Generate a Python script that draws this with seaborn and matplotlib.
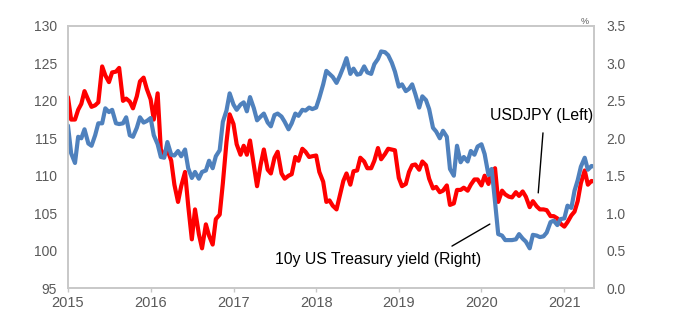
import numpy as np
import pandas as pd
import matplotlib
matplotlib.use("Agg")
import matplotlib.pyplot as plt
import matplotlib.dates as mdates
import matplotlib.ticker as mticker
import seaborn as sns

# ---- data (semi-monthly samples: 1st and 15th of each month) ----
dates = pd.date_range("2015-01-01", "2021-05-15", freq="SMS")

usdjpy_2015 = [120.5, 117.5, 117.5, 118.8, 119.6, 121.3, 120.1, 119.2, 119.4, 119.8, 124.6, 123.4,
               122.5, 123.8, 123.9, 124.4, 120.0, 120.3, 119.9, 119.0, 120.6, 122.6, 123.1, 121.6]
usdjpy_2016 = [120.2, 117.5, 121.0, 113.5, 112.7, 113.5, 112.0, 108.8, 106.5, 108.6, 110.5, 106.0,
               101.5, 105.5, 102.2, 100.3, 103.5, 102.0, 100.8, 104.2, 104.8, 109.0, 114.5, 118.2]
usdjpy_2017 = [116.9, 114.2, 112.8, 114.0, 112.8, 114.7, 111.4, 108.6, 111.5, 113.5, 110.8, 110.3,
               112.4, 113.2, 110.3, 109.6, 110.0, 110.2, 112.5, 112.0, 113.6, 113.2, 112.5, 112.6]
usdjpy_2018 = [112.7, 110.5, 109.2, 106.5, 106.7, 106.0, 105.5, 107.3, 109.3, 110.3, 108.8, 110.6,
               110.7, 112.4, 111.9, 111.0, 111.0, 112.0, 113.7, 112.2, 112.9, 113.6, 113.5, 113.4]
usdjpy_2019 = [109.7, 108.6, 108.9, 110.5, 111.4, 111.5, 110.8, 111.9, 111.4, 109.6, 108.3, 108.5,
               107.8, 108.0, 108.7, 106.1, 106.3, 108.1, 108.1, 108.4, 108.0, 108.8, 109.5, 109.5]
usdjpy_2020 = [108.7, 110.0, 108.9, 110.5, 111.0, 106.5, 108.0, 107.5, 107.2, 107.1, 107.8, 107.3,
               107.9, 107.2, 105.8, 106.6, 105.9, 105.5, 105.5, 105.4, 104.6, 104.6, 104.3, 103.6]
usdjpy_2021 = [103.2, 103.8, 104.7, 105.2, 106.6, 109.0, 110.7, 108.8, 109.3, 109.2]

ust10y_2015 = [2.17, 1.80, 1.67, 2.02, 2.00, 2.12, 1.93, 1.90, 2.04, 2.20, 2.20, 2.40,
               2.35, 2.38, 2.20, 2.19, 2.20, 2.28, 2.04, 2.02, 2.14, 2.28, 2.21, 2.23]
ust10y_2016 = [2.27, 2.04, 1.92, 1.75, 1.74, 1.95, 1.78, 1.77, 1.83, 1.76, 1.85, 1.60,
               1.47, 1.55, 1.46, 1.55, 1.57, 1.70, 1.60, 1.76, 1.84, 2.22, 2.37, 2.60]
ust10y_2017 = [2.45, 2.38, 2.45, 2.48, 2.36, 2.55, 2.40, 2.24, 2.29, 2.33, 2.21, 2.16,
               2.31, 2.33, 2.29, 2.22, 2.12, 2.20, 2.33, 2.30, 2.38, 2.37, 2.41, 2.39]
ust10y_2018 = [2.41, 2.54, 2.72, 2.90, 2.86, 2.82, 2.74, 2.83, 2.95, 3.07, 2.86, 2.93,
               2.85, 2.86, 2.96, 2.88, 2.86, 2.99, 3.06, 3.16, 3.15, 3.11, 3.01, 2.89]
ust10y_2019 = [2.69, 2.72, 2.63, 2.66, 2.72, 2.59, 2.41, 2.56, 2.51, 2.39, 2.14, 2.09,
               2.00, 2.10, 2.02, 1.59, 1.50, 1.90, 1.68, 1.75, 1.69, 1.83, 1.78, 1.89]
ust10y_2020 = [1.92, 1.79, 1.51, 1.59, 1.15, 0.72, 0.70, 0.64, 0.64, 0.64, 0.65, 0.72,
               0.66, 0.62, 0.53, 0.71, 0.70, 0.68, 0.69, 0.74, 0.88, 0.90, 0.84, 0.92]
ust10y_2021 = [0.93, 1.10, 1.07, 1.30, 1.44, 1.62, 1.74, 1.58, 1.63, 1.62]

usdjpy = (usdjpy_2015 + usdjpy_2016 + usdjpy_2017 + usdjpy_2018 + usdjpy_2019
          + usdjpy_2020 + usdjpy_2021)
ust10y = (ust10y_2015 + ust10y_2016 + ust10y_2017 + ust10y_2018 + ust10y_2019
          + ust10y_2020 + ust10y_2021)

left_ticks = [95, 100, 105, 110, 115, 120, 125, 130]
right_ticks = [0.0, 0.5, 1.0, 1.5, 2.0, 2.5, 3.0, 3.5]
label_fx = "USDJPY (Left)"
label_yield = "10y US Treasury yield (Right)"

df = pd.DataFrame({"date": dates, "usdjpy": usdjpy, "ust10y": ust10y})

# ---- style ----
sns.set_style("white")
plt.rcParams["font.family"] = ["Liberation Sans", "DejaVu Sans"]

RED = "#FF0000"
BLUE = "#4F81BD"
SPINE = "#C8C8C8"
TICKC = "#595959"

fig = plt.figure(figsize=(6.77, 3.24), dpi=100)
ax = fig.add_axes([0.1004, 0.1111, 0.7770, 0.8087])
sns.lineplot(data=df, x="date", y="usdjpy", ax=ax, color=RED, lw=3.0)
ax2 = ax.twinx()
sns.lineplot(data=df, x="date", y="ust10y", ax=ax2, color=BLUE, lw=3.0)

ax.set_xlim(pd.Timestamp("2015-01-01"), pd.Timestamp("2021-05-12"))
ax.set_ylim(95, 130)
ax2.set_ylim(0, 3.5)
ax.set_yticks(left_ticks)
ax2.set_yticks(right_ticks)
ax2.yaxis.set_major_formatter(mticker.FormatStrFormatter("%.1f"))
ax.xaxis.set_major_locator(mdates.YearLocator())
ax.xaxis.set_major_formatter(mdates.DateFormatter("%Y"))

for a in (ax, ax2):
    a.set_xlabel("")
    a.set_ylabel("")
    for s in a.spines.values():
        s.set_color(SPINE)
        s.set_linewidth(1.2)

ax.tick_params(axis="y", length=0, pad=8, labelsize=10, labelcolor=TICKC)
ax2.tick_params(axis="y", length=0, pad=9, labelsize=10, labelcolor=TICKC)
ax.tick_params(axis="x", length=3, width=1, color=SPINE, direction="out",
               pad=3, labelsize=10.5, labelcolor=TICKC, bottom=True)

# annotations
ax.text(0.901, 0.660, label_fx, transform=ax.transAxes, ha="center", va="center",
        fontsize=11.3, color="black")
ax.plot([0.903, 0.894], [0.592, 0.363], transform=ax.transAxes, color="black", lw=1.0)
ax.text(0.590, 0.107, label_yield, transform=ax.transAxes, ha="center", va="center",
        fontsize=11.3, color="black")
ax.plot([0.730, 0.802], [0.160, 0.244], transform=ax.transAxes, color="black", lw=1.0)
ax.text(0.983, 1.019, "%", transform=ax.transAxes, ha="center", va="center",
        fontsize=6.5, color=TICKC)

fig.savefig("out.png", dpi=100)
